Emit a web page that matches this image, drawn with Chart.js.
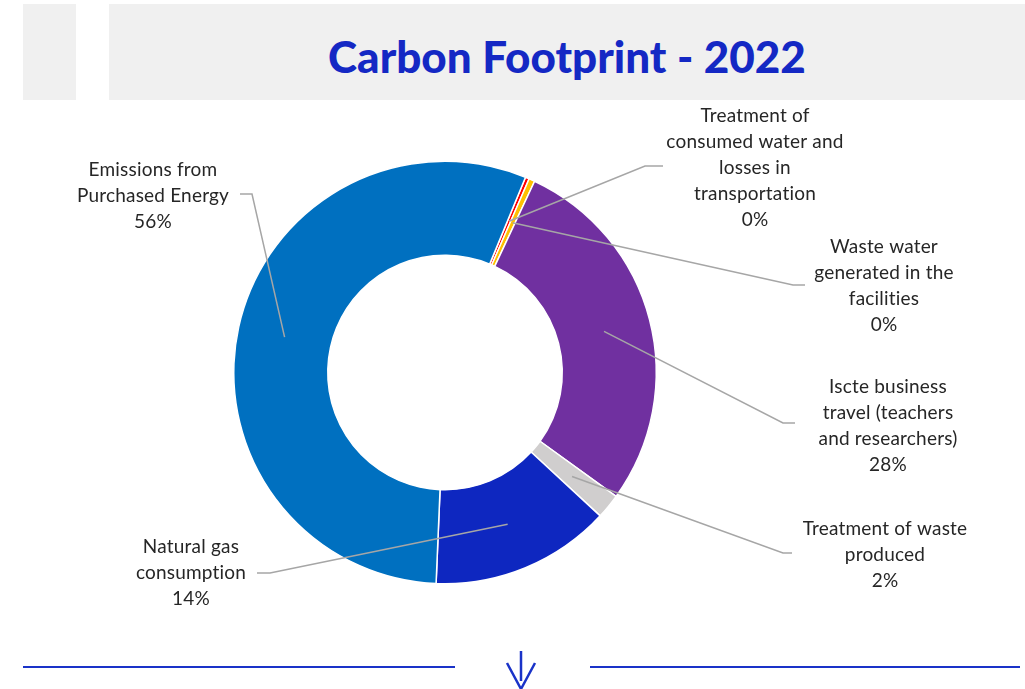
<!DOCTYPE html>
<html>
<head>
<meta charset="utf-8">
<script src="https://cdn.jsdelivr.net/npm/chart.js@4.4.0/dist/chart.umd.min.js"></script>
<style>
  html, body { margin: 0; padding: 0; background: #fff; }
  body { width: 1025px; height: 689px; position: relative; overflow: hidden; }
  .band { position: absolute; top: 4px; height: 96px; background: #f0f0f0; }
  #title { position: absolute; left: 109px; right: 0; top: 4px; height: 96px; line-height: 104px;
           text-align: center; font-family: "Lato", sans-serif; font-weight: 900; font-size: 44px; color: #1428c4; }
  #wrap { position: absolute; left: 0; top: 0; width: 1025px; height: 689px; }
  svg { position: absolute; left: 0; top: 0; }
</style>
</head>
<body>
<div class="band" style="left:23px;width:53px"></div>
<div class="band" style="left:109px;width:916px"></div>
<div id="title">Carbon Footprint - 2022</div>

<div id="wrap"><canvas id="myChart" width="1025" height="689"></canvas></div>

<svg width="1025" height="689">
  <line x1="23" y1="667" x2="455" y2="667" stroke="#1a33c8" stroke-width="2"/>
  <line x1="590" y1="667" x2="1020" y2="667" stroke="#1a33c8" stroke-width="2"/>
  <line x1="521" y1="651" x2="521" y2="681" stroke="#1a33c8" stroke-width="2.5"/>
  <polyline points="507,663 521,689 535,663" fill="none" stroke="#1a33c8" stroke-width="2.5"/>
</svg>

<script>
// slices, clockwise from the top-right
var labels = [
  ["Treatment of", "consumed water and", "losses in", "transportation"],
  ["Waste water", "generated in the", "facilities"],
  ["Iscte business", "travel (teachers", "and researchers)"],
  ["Treatment of waste", "produced"],
  ["Natural gas", "consumption"],
  ["Emissions from", "Purchased Energy"]
];
var values = [0.3, 0.45, 28.0, 1.9, 13.8, 55.55];
var colors = ["#ff0000", "#ffc000", "#7030a0", "#d0cece", "#0e27c0", "#0070c0"];

// where each label sits and where its leader line leaves it
var labelSpots = [
  { x: 755, y: 116, knee: [[663, 166], [645, 166]] },
  { x: 884, y: 247, knee: [[805, 285], [793, 285]] },
  { x: 888, y: 387, knee: [[795, 423], [783, 423]] },
  { x: 885, y: 529, knee: [[792, 553], [783, 553]] },
  { x: 191, y: 547, knee: [[257, 573], [270, 573]] },
  { x: 153, y: 170, knee: [[240, 194], [252, 194]] }
];

var calloutPlugin = {
  id: "callouts",
  afterDatasetsDraw: function (chart) {
    var ctx = chart.ctx;
    var arcs = chart.getDatasetMeta(0).data;
    var data = chart.data.datasets[0].data;
    var total = data.reduce(function (a, b) { return a + b; }, 0);
    ctx.save();
    arcs.forEach(function (arc, i) {
      var spot = labelSpots[i];
      var p = arc.tooltipPosition();
      ctx.strokeStyle = "#a6a6a6";
      ctx.lineWidth = 1.5;
      ctx.beginPath();
      ctx.moveTo(spot.knee[0][0], spot.knee[0][1]);
      ctx.lineTo(spot.knee[1][0], spot.knee[1][1]);
      ctx.lineTo(p.x, p.y);
      ctx.stroke();

      var lines = chart.data.labels[i].concat([Math.round(data[i] / total * 100) + "%"]);
      ctx.fillStyle = "#262626";
      ctx.font = "19px Lato";
      ctx.letterSpacing = "0.2px"; // also stops the "ti" ligature
      ctx.textAlign = "center";
      ctx.textBaseline = "middle";
      lines.forEach(function (t, k) {
        ctx.fillText(t, spot.x, spot.y + k * 26);
      });
    });
    ctx.restore();
  }
};

var c = new Chart("myChart", {
  type: "doughnut",
  data: {
    labels: labels,
    datasets: [{
      data: values,
      backgroundColor: colors,
      borderColor: "#ffffff",
      borderWidth: 1.5
    }]
  },
  options: {
    responsive: false,
    animation: false,
    rotation: 22.4,
    cutout: "55.5%",
    layout: { padding: { left: 233, top: 160, right: 368, bottom: 104 } },
    plugins: {
      legend: { display: false },
      tooltip: { enabled: false },
      title: { display: false }
    }
  },
  plugins: [calloutPlugin]
});
</script>
</body>
</html>
